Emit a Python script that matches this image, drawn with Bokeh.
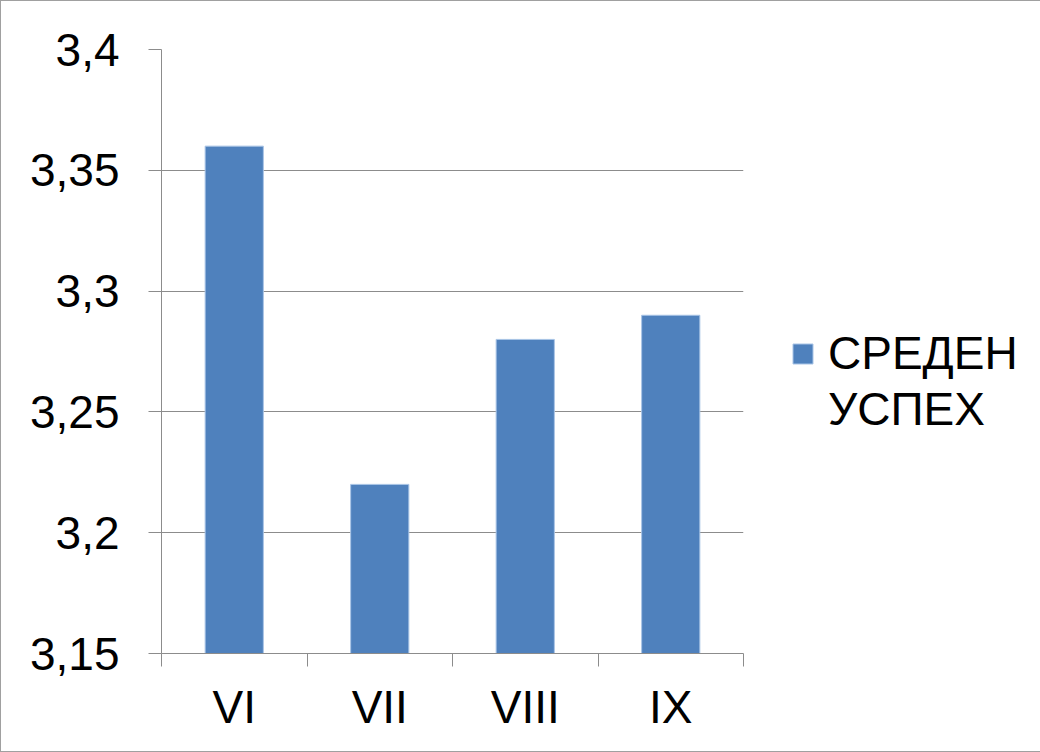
from bokeh.plotting import figure
from bokeh.models import ColumnDataSource, FixedTicker, Range1d, Legend, LegendItem
from bokeh.embed import file_html
from bokeh.resources import INLINE

categories = ["VI", "VII", "VIII", "IX"]
values = [3.36, 3.22, 3.28, 3.29]
series_name_lines = ["СРЕДЕН", "УСПЕХ"]
y_ticks = [3.15, 3.2, 3.25, 3.3, 3.35, 3.4]
y_tick_labels = ["3,15", "3,2", "3,25", "3,3", "3,35", "3,4"]

FONT = "Liberation Sans"
GRAY = "#8c8c8c"
BLUE = "#4f81bd"

xs = [i + 0.5 for i in range(len(categories))]
src = ColumnDataSource(dict(x=xs, top=values, cat=categories))

p = figure(frame_width=582, frame_height=604, output_backend="svg", toolbar_location=None,
           x_range=Range1d(0, len(categories)), y_range=Range1d(y_ticks[0], y_ticks[-1]),
           min_border_left=160, min_border_right=298, min_border_top=48, min_border_bottom=98)
p.styles = {"border-top": "1px solid #a0a0a0", "border-left": "1px solid #a0a0a0",
            "border-bottom": "1px solid #a0a0a0", "box-sizing": "border-box"}
p.outline_line_color = None
p.background_fill_color = "white"
p.border_fill_color = "white"

r = p.vbar(x="x", top="top", bottom=y_ticks[0], width=0.4, source=src,
           fill_color=BLUE, line_color="#a9c4e6", line_width=1)
dummy = p.vbar(x=[], top=[], bottom=0, width=0.4, fill_alpha=0, line_alpha=0)

# x axis
xa = p.xaxis[0]
xa.ticker = FixedTicker(ticks=xs, minor_ticks=list(range(len(categories) + 1)))
xa.major_label_overrides = {x: c for x, c in zip(xs, categories)}
xa.major_tick_line_color = None
xa.major_tick_out = 13
xa.major_tick_in = 0
xa.minor_tick_out = 13
xa.minor_tick_in = 0
xa.minor_tick_line_color = GRAY
xa.axis_line_color = GRAY
xa.major_label_standoff = 14
xa.major_label_text_font = FONT
xa.major_label_text_font_size = "46px"
xa.major_label_text_color = "black"

# y axis
ya = p.yaxis[0]
ya.ticker = FixedTicker(ticks=y_ticks, minor_ticks=[])
ya.major_label_overrides = dict(zip(y_ticks, y_tick_labels))
ya.major_tick_out = 13
ya.major_tick_in = 0
ya.major_tick_line_color = GRAY
ya.minor_tick_line_color = None
ya.axis_line_color = GRAY
ya.major_label_standoff = 29
ya.major_label_text_font = FONT
ya.major_label_text_font_size = "46px"
ya.major_label_text_color = "black"

p.xgrid.visible = False
p.ygrid.ticker = FixedTicker(ticks=y_ticks)
p.ygrid.grid_line_color = GRAY
p.ygrid.grid_line_width = 1

legend = Legend(items=[LegendItem(label=series_name_lines[0], renderers=[r]),
                       LegendItem(label=series_name_lines[1], renderers=[dummy])],
                location=(47, 217), margin=0, padding=0, spacing=2,
                border_line_color=None, background_fill_alpha=0,
                glyph_width=25, glyph_height=25,
                label_text_font=FONT, label_text_font_size="46px",
                label_text_color="black", label_standoff=13)
p.add_layout(legend, "right")

open("out.html", "w").write(file_html(p, INLINE))
